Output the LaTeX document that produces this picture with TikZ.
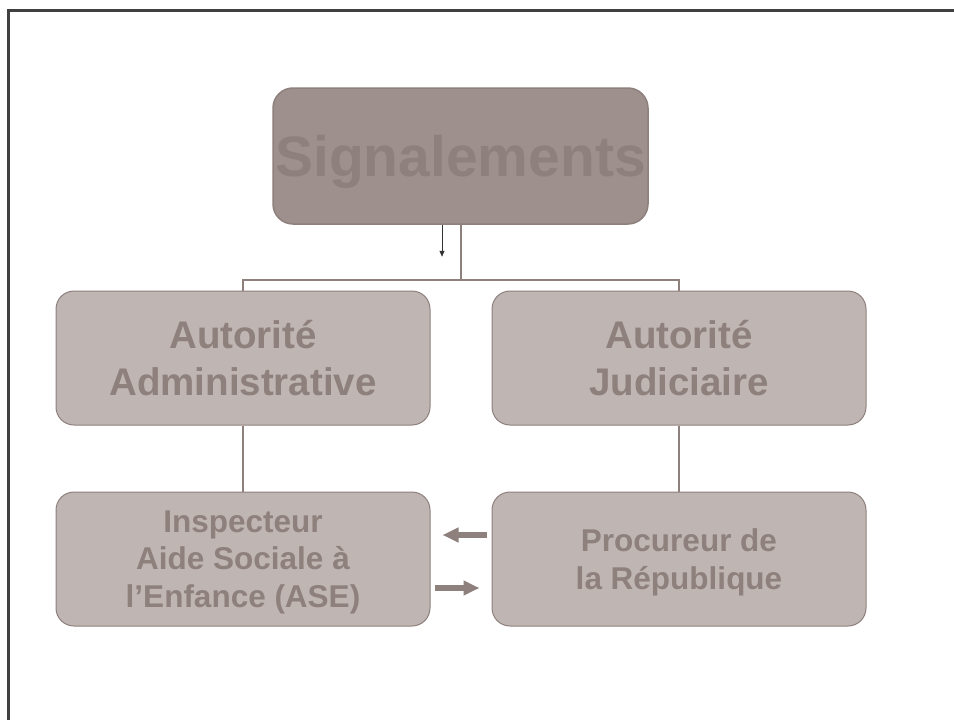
\documentclass[tikz,border=0pt]{standalone}
\usepackage{fontspec}
\setmainfont{Liberation Sans}
\usetikzlibrary{positioning,arrows.meta,calc}
\definecolor{boxdark}{HTML}{9E908C}
\definecolor{boxlight}{HTML}{BFB5B2}
\definecolor{boxline}{HTML}{8E807C}
\definecolor{txtgray}{HTML}{8E807C}
\definecolor{framegray}{HTML}{404040}

\begin{document}
\begin{tikzpicture}[x=1pt,y=-1pt,
	topbox/.style={draw=boxline,line width=1.5pt,fill=boxdark,rounded corners=20pt,
		minimum width=375pt,minimum height=136pt,inner sep=0pt,text=txtgray,
		text height=41pt,text depth=0pt,font=\fontsize{57}{60}\selectfont\bfseries},
	midbox/.style={draw=boxline,line width=1pt,fill=boxlight,rounded corners=18pt,
		minimum width=374pt,minimum height=134pt,inner sep=0pt,align=center,text=txtgray,
		text depth=0pt,font=\fontsize{38.5}{47}\selectfont\bfseries},
	lowbox/.style={midbox,font=\fontsize{31.5}{37.5}\selectfont\bfseries},
	link/.style={draw=boxline,line width=2pt},
	swaparrow/.style={draw=boxline,line width=5.5pt,-{Triangle[length=16pt,width=14pt]}}]
		\useasboundingbox (0,0) rectangle (954,720);
		% frame
		\draw [framegray,line width=3pt] (8,722) -- (8,10) -- (956,10);
		% boxes
		\node [topbox] (sig) at (460.5,156) {Signalements};
		\node [midbox] (admin) at (243,358) {Autorité\\Administrative};
		\node [midbox] (jud) at (679,358) {Autorité\\Judiciaire};
		\node [lowbox] (insp) at (243,559) {Inspecteur\\Aide Sociale à\\l’Enfance (ASE)};
		\node [lowbox] (proc) at (679,559) {Procureur de\\la République};
		% tree
		\coordinate (hub) at ($(sig.south)+(0,55)$);
		\draw [link] (sig.south) -- (hub);
		\draw [link] (admin.north) |- (hub) -| (jud.north);
		\draw [link] (admin.south) -- (insp.north);
		\draw [link] (jud.south) -- (proc.north);
		% small arrow
		\coordinate (drop) at ($(sig.south)+(-18.5,32)$);
		\draw [black!80,line width=0.8pt,-{Triangle[length=6pt,width=5pt]}] ($(sig.south)+(-18.5,0)$) -- (drop);
		% exchange
		\draw [swaparrow] ($(proc.west)+(-5,-24)$) -- ($(insp.east)+(12,-24)$);
		\draw [swaparrow] ($(insp.east)+(4,29)$) -- ($(proc.west)+(-12,29)$);
\end{tikzpicture}
\end{document}
